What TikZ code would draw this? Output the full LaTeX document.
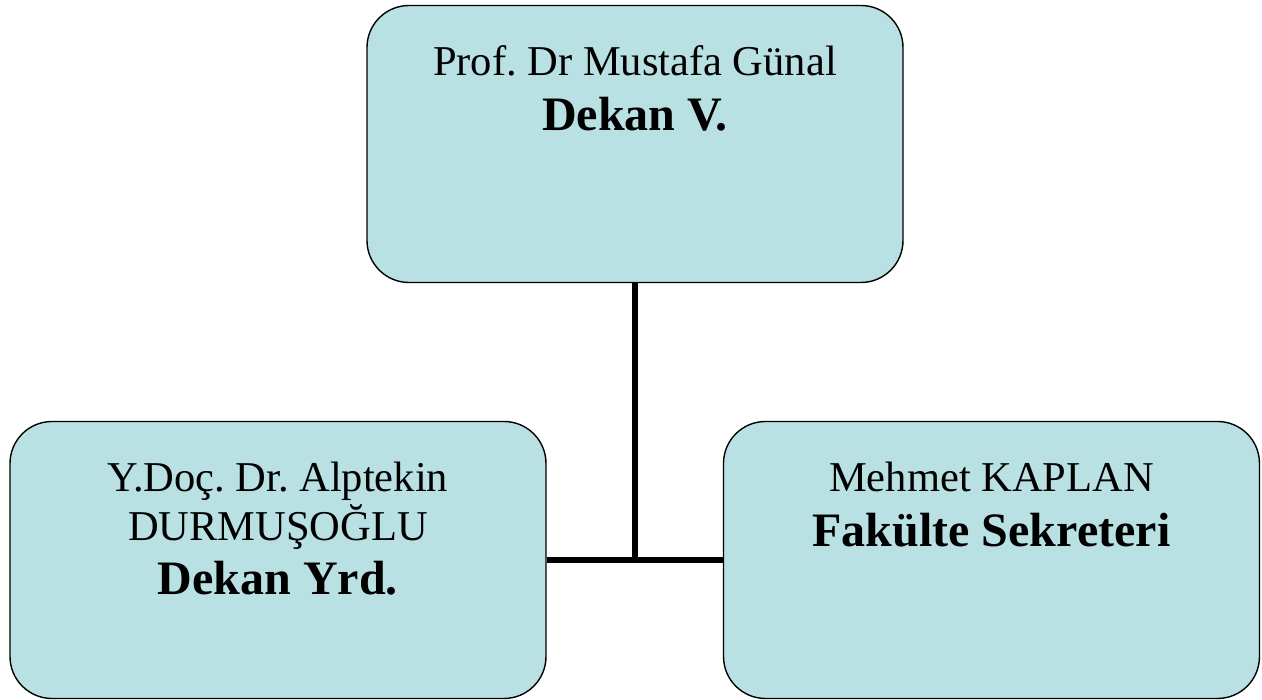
\documentclass[tikz,border=0pt]{standalone}
\usepackage{fontspec}
\setmainfont{Liberation Serif}
\usetikzlibrary{calc}

\definecolor{boxblue}{RGB}{185,224,227}
\newcommand{\nametext}{\fontsize{42.5}{49}\selectfont\frenchspacing}
\newcommand{\titletext}{\fontsize{48}{55}\selectfont\bfseries}

\begin{document}
\begin{tikzpicture}[x=1pt, y=1pt,
  unitbox/.style={draw, fill=boxblue, line width=1.4pt, rounded corners=42pt,
    minimum width=536pt, minimum height=277pt, inner sep=0pt},
  boxtext/.style={anchor=north, align=center, inner sep=0pt, yshift=-41pt, font=\nametext},
  link/.style={line width=5.5pt, black}]
\useasboundingbox (0, 0) rectangle (1262, 700);

\node [unitbox, label={[boxtext]north:{Prof. Dr Mustafa Günal\\[6pt]{\titletext Dekan V.}}}] (dekan) at (635, 556) {};
\node [unitbox, label={[boxtext]north:{Y.Doç. Dr. Alptekin\\DURMUŞOĞLU\\[5pt]{\titletext Dekan Yrd.}}}] (yrd) at (278, 140) {};
\node [unitbox, label={[boxtext]north:{Mehmet KAPLAN\\[6pt]{\titletext Fakülte Sekreteri}}}] (sekreter) at (991.5, 140) {};

\coordinate (joint) at (dekan.south |- yrd.east);
\draw [link] (dekan.south) -- (joint);
\draw [link] (yrd.east) -- (sekreter.west);
\end{tikzpicture}
\end{document}
